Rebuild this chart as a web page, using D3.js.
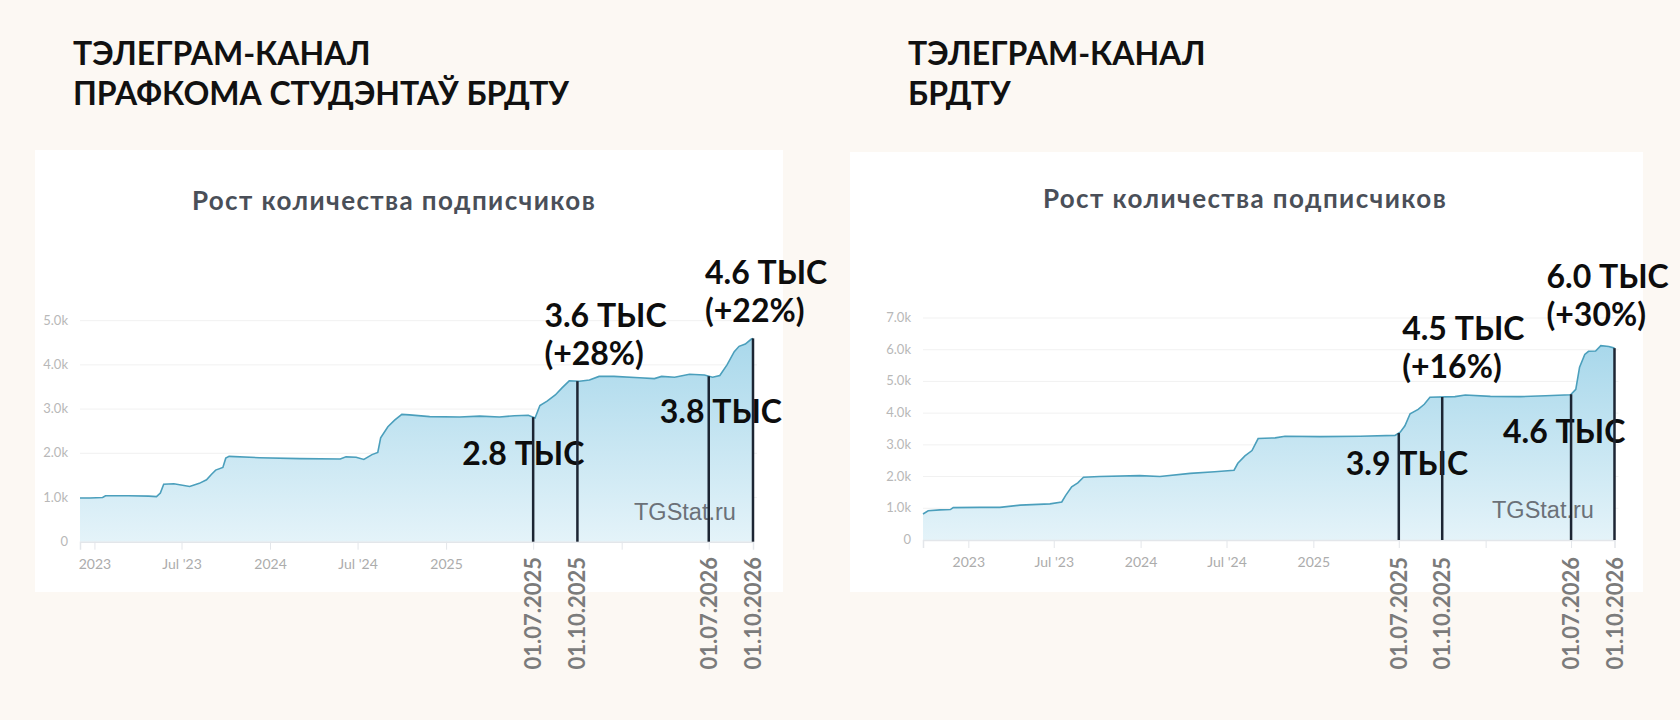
<!DOCTYPE html>
<html lang="ru">
<head>
<meta charset="UTF-8">
<title>Рост количества подписчиков</title>
<script src="https://cdn.jsdelivr.net/npm/d3@7/dist/d3.min.js"></script>
<style>
  html, body { margin: 0; padding: 0; background: #fcf8f3; }
</style>
</head>
<body>
<script>
// ---- данные: левый канал (профком студентов) ----
var leftDates = ["2022-12-02","2022-12-23","2023-01-18","2023-01-24","2023-03-13","2023-04-24","2023-05-10","2023-05-18",
  "2023-05-25","2023-06-15","2023-07-18","2023-08-07","2023-08-22","2023-09-01","2023-09-10","2023-09-25","2023-10-01",
  "2023-10-08","2023-12-10","2024-03-03","2024-05-26","2024-06-07","2024-06-28","2024-07-14","2024-07-31","2024-08-12",
  "2024-08-18","2024-09-02","2024-09-16","2024-10-01","2024-10-17","2024-11-28","2025-01-29","2025-03-12","2025-04-22",
  "2025-05-23","2025-06-21","2025-07-05","2025-07-15","2025-07-30","2025-08-16","2025-08-30","2025-09-14","2025-10-05",
  "2025-10-26","2025-11-15","2025-12-16","2026-02-07","2026-03-10","2026-03-25","2026-04-21","2026-05-22","2026-06-22",
  "2026-07-09","2026-07-24","2026-08-08","2026-08-23","2026-09-02","2026-09-15","2026-09-27","2026-10-01"];
var leftValues = [990,990,1000,1040,1040,1030,1020,1100,1300,1310,1250,1320,1400,1520,1620,1680,1890,1930,1900,1880,1870,
  1920,1910,1860,1970,2020,2350,2600,2750,2880,2870,2830,2820,2840,2820,2850,2860,2800,3080,3180,3320,3480,3640,3630,
  3660,3740,3740,3710,3690,3740,3720,3790,3770,3720,3760,4000,4300,4420,4470,4580,4600];

// ---- данные: правый канал (БРДТУ) ----
var rightDates = ["2022-09-27","2022-10-08","2022-11-02","2022-11-24","2022-11-30","2023-01-25","2023-03-09","2023-04-21",
  "2023-06-23","2023-07-18","2023-07-26","2023-08-08","2023-08-21","2023-09-02","2023-10-06","2023-12-30","2024-02-11",
  "2024-04-15","2024-06-06","2024-07-17","2024-07-25","2024-08-09","2024-08-24","2024-09-06","2024-10-12","2024-11-02",
  "2025-01-15","2025-04-10","2025-06-23","2025-07-04","2025-07-14","2025-07-25","2025-08-11","2025-08-24","2025-09-05",
  "2025-10-28","2025-11-19","2026-01-11","2026-03-16","2026-05-08","2026-06-30","2026-07-11","2026-07-19","2026-07-30",
  "2026-08-07","2026-08-22","2026-09-02","2026-09-19","2026-10-01"];
var rightValues = [820,920,950,960,1020,1030,1030,1100,1140,1200,1400,1680,1800,1980,2000,2030,2000,2100,2150,2200,2420,
  2650,2820,3200,3220,3270,3260,3270,3300,3400,3600,3980,4120,4280,4500,4520,4570,4530,4520,4550,4580,4750,5450,5850,
  5950,5960,6130,6100,6050];

// отметки дат и подписи
var markerDates = ["2025-07-01","2025-10-01","2026-07-01","2026-10-01"];
var markerLabels = ["01.07.2025","01.10.2025","01.07.2026","01.10.2026"];
var leftNotes = [["2.8 ТЫС"],["3.6 ТЫС","(+28%)"],["3.8 ТЫС"],["4.6 ТЫС","(+22%)"]];
var rightNotes = [["3.9 ТЫС"],["4.5 ТЫС","(+16%)"],["4.6 ТЫС"],["6.0 ТЫС","(+30%)"]];

var xTickDates = ["2023-01-01","2023-07-01","2024-01-01","2024-07-01","2025-01-01","2025-07-01","2026-01-01","2026-07-01"];
var xTickLabels = ["2023","Jul '23","2024","Jul '24","2025","","",""];
var leftYTicks = [0,1000,2000,3000,4000,5000];
var rightYTicks = [0,1000,2000,3000,4000,5000,6000,7000];

var leftHeading = ["ТЭЛЕГРАМ-КАНАЛ","ПРАФКОМА СТУДЭНТАЎ БРДТУ"];
var rightHeading = ["ТЭЛЕГРАМ-КАНАЛ","БРДТУ"];
var cardTitle = "Рост количества подписчиков";

var parse = d3.timeParse("%Y-%m-%d");

// холст
var width = 1680, height = 720;
var svg = d3.select("body").append("svg")
    .attr("width", width)
    .attr("height", height)
    .style("display", "block");

svg.append("rect").attr("width", width).attr("height", height).attr("fill", "#fcf8f3");

var defs = svg.append("defs");

function yFmt(v) {
    return v === 0 ? "0" : (v / 1000).toFixed(1) + "k";
}

function drawPanel(cfg) {
    var g = svg.append("g");

    // заголовок над карточкой
    g.selectAll("text.head")
        .data(cfg.heading)
        .enter().append("text")
        .attr("x", cfg.headX)
        .attr("y", function (d, i) { return 65 + i * 40; })
        .attr("font-family", "Lato, sans-serif")
        .attr("font-weight", 700)
        .attr("font-size", 32)
        .attr("fill", "#111")
        .text(function (d) { return d; });

    // белая карточка
    g.append("rect")
        .attr("x", cfg.card[0]).attr("y", cfg.card[1])
        .attr("width", cfg.card[2]).attr("height", cfg.card[3])
        .attr("fill", "#ffffff");

    g.append("text")
        .attr("x", cfg.titleX).attr("y", cfg.titleY)
        .attr("text-anchor", "middle")
        .attr("font-family", "Lato, sans-serif")
        .attr("font-weight", 700)
        .attr("font-size", 26)
        .attr("letter-spacing", 1.4)
        .attr("fill", "#4a4f58")
        .text(cardTitle);

    var data = cfg.dates.map(function (d, i) { return { date: parse(d), value: cfg.values[i] }; });

    var x = d3.scaleTime().domain([parse(cfg.start), parse(cfg.end)]).range(cfg.xRange);
    var y = d3.scaleLinear().domain([0, cfg.yMax]).range(cfg.yRange);

    // сетка и подписи оси Y
    g.selectAll("line.grid")
        .data(cfg.yTicks.slice(1))
        .enter().append("line")
        .attr("x1", cfg.xRange[0]).attr("x2", cfg.xRange[1] + 4)
        .attr("y1", function (d) { return y(d); })
        .attr("y2", function (d) { return y(d); })
        .attr("stroke", "#f1f1f1").attr("stroke-width", 1);

    g.selectAll("text.ylab")
        .data(cfg.yTicks)
        .enter().append("text")
        .attr("x", cfg.xRange[0] - 12)
        .attr("y", function (d) { return y(d) + 4; })
        .attr("text-anchor", "end")
        .attr("font-family", "Lato, sans-serif")
        .attr("font-size", 13)
        .attr("fill", "#b8b8b8")
        .text(yFmt);

    // область с градиентом
    var gid = "grad" + cfg.id;
    var grad = defs.append("linearGradient")
        .attr("id", gid)
        .attr("gradientUnits", "userSpaceOnUse")
        .attr("x1", 0).attr("x2", 0)
        .attr("y1", y(cfg.values[cfg.values.length - 1])).attr("y2", y(0));
    grad.append("stop").attr("offset", 0).attr("stop-color", "#a9d8eb");
    grad.append("stop").attr("offset", 1).attr("stop-color", "#e4f3f9");

    var area = d3.area()
        .x(function (d) { return x(d.date); })
        .y0(y(0))
        .y1(function (d) { return y(d.value); });
    var line = d3.line()
        .x(function (d) { return x(d.date); })
        .y(function (d) { return y(d.value); });

    g.append("path").datum(data).attr("d", area).attr("fill", "url(#" + gid + ")");
    g.append("path").datum(data).attr("d", line)
        .attr("fill", "none").attr("stroke", "#4b9fbc").attr("stroke-width", 1.6);

    // ось X
    var axis = d3.axisBottom(x)
        .tickValues(xTickDates.map(parse))
        .tickSize(8)
        .tickPadding(9)
        .tickFormat(function (d, i) { return xTickLabels[i]; });
    var ax = g.append("g")
        .attr("transform", "translate(0," + y(0) + ")")
        .call(axis);
    ax.select(".domain").attr("stroke", "#e3e6ea").attr("stroke-width", 1.5);
    ax.selectAll(".tick line").attr("stroke", "#e3e6ea");
    ax.selectAll(".tick text")
        .attr("font-family", "Lato, sans-serif")
        .attr("font-size", 14)
        .attr("fill", "#acacac");

    // водяной знак
    g.append("text")
        .attr("x", cfg.wmX).attr("y", cfg.wmY)
        .attr("font-family", "'Liberation Sans', Arial, sans-serif")
        .attr("font-size", 23.5)
        .attr("fill", "#6b7178")
        .text("TGStat.ru");

    var bisect = d3.bisector(function (d) { return d.date; }).left;
    function valueAt(dt) {
        var i = bisect(data, dt);
        if (i <= 0) return data[0].value;
        if (i >= data.length) return data[data.length - 1].value;
        var a = data[i - 1], b = data[i];
        var t = (dt - a.date) / (b.date - a.date);
        return a.value + t * (b.value - a.value);
    }

    var marks = markerDates.map(function (d, i) {
        var dt = parse(d);
        return { date: dt, v: valueAt(dt), label: markerLabels[i], note: cfg.notes[i], pos: cfg.notePos[i] };
    });

    // подписи к отметкам
    marks.forEach(function (m) {
        var t = g.append("text")
            .attr("font-family", "Lato, sans-serif")
            .attr("font-weight", 700)
            .attr("font-size", 32)
            .attr("fill", "#0d0d0d");
        m.note.forEach(function (s, j) {
            t.append("tspan")
                .attr("x", x(m.date) + m.pos[0])
                .attr("y", m.pos[1] + j * 38)
                .text(s);
        });
    });

    // вертикальные линии
    g.selectAll("line.mark")
        .data(marks)
        .enter().append("line")
        .attr("x1", function (d) { return x(d.date); })
        .attr("x2", function (d) { return x(d.date); })
        .attr("y1", y(0))
        .attr("y2", function (d) { return y(d.v); })
        .attr("stroke", "#1c2533")
        .attr("stroke-width", 2.5);

    // повернутые даты
    g.selectAll("text.date")
        .data(marks)
        .enter().append("text")
        .attr("transform", function (d) { return "translate(" + (x(d.date) + 8) + ",557) rotate(-90)"; })
        .attr("text-anchor", "end")
        .attr("font-family", "Lato, sans-serif")
        .attr("font-weight", 700)
        .attr("font-size", 22)
        .attr("fill", "#7b7b7b")
        .text(function (d) { return d.label; });
}

drawPanel({
    id: "L",
    heading: leftHeading, headX: 73,
    card: [35, 150, 748, 442],
    titleX: 394, titleY: 210,
    dates: leftDates, values: leftValues,
    start: "2022-12-02", end: "2026-10-01",
    xRange: [80, 753], yRange: [541.7, 320.7], yMax: 5000, yTicks: leftYTicks,
    wmX: 634, wmY: 520,
    notes: leftNotes,
    notePos: [[-71, 465], [-33, 327], [-49, 423], [-48, 284]]
});

drawPanel({
    id: "R",
    heading: rightHeading, headX: 908,
    card: [850, 152, 793, 440],
    titleX: 1245, titleY: 208,
    dates: rightDates, values: rightValues,
    start: "2022-09-27", end: "2026-10-01",
    xRange: [923, 1614.5], yRange: [540, 318], yMax: 7000, yTicks: rightYTicks,
    wmX: 1492, wmY: 518,
    notes: rightNotes,
    notePos: [[-53, 475], [-40, 340], [-68, 443], [-68, 288]]
});
</script>
</body>
</html>
